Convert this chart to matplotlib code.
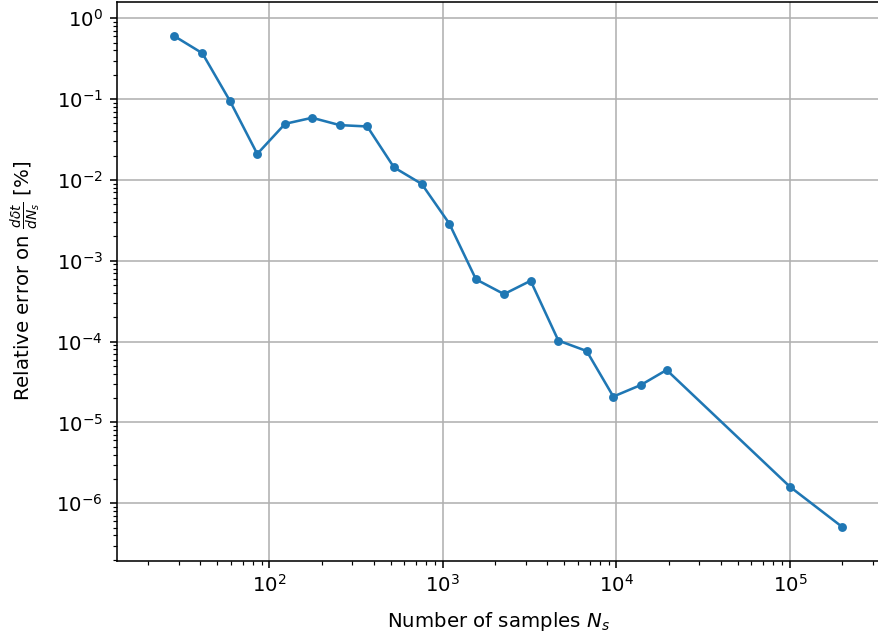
import matplotlib
matplotlib.use("Agg")
import matplotlib.pyplot as plt

# Number of samples and the corresponding relative error (in %)
n_samples = [28, 41, 59, 85, 123, 176, 254, 366, 522, 754, 1087, 1549,
             2248, 3200, 4624, 6733, 9590, 13840, 19450, 1.0e5, 2.0e5]
rel_error = [0.61, 0.37, 0.096, 0.021, 0.0495, 0.0588, 0.0477, 0.0459,
             0.0143, 0.00893, 0.00289, 0.00059, 0.000387, 0.000566,
             0.000103, 7.65e-5, 2.09e-5, 2.91e-5, 4.46e-5, 1.6e-6, 5.1e-7]

W, H = 878, 641
DPI = 142
fig = plt.figure(figsize=(W / DPI, H / DPI), dpi=DPI)
left, right, top, bottom = 117, 880, 2, 560.5
ax = fig.add_axes([left / W, (H - bottom) / H, (right - left) / W, (bottom - top) / H])

ax.plot(n_samples, rel_error, '.-', color='#1f77b4', markersize=7, linewidth=1.3)
ax.set_xscale('log')
ax.set_yscale('log')
ax.set_xlim(10 ** 1.121, 10 ** 5.519)
ax.set_ylim(10 ** -6.708, 10 ** 0.2017)
ax.grid(True, which='major')

ax.set_xlabel('Number of samples $N_s$', labelpad=7)
ax.set_ylabel(r'Relative error on $\frac{d\delta t}{dN_s}$ [%]', labelpad=7)

fig.savefig('out.png', dpi=DPI)
